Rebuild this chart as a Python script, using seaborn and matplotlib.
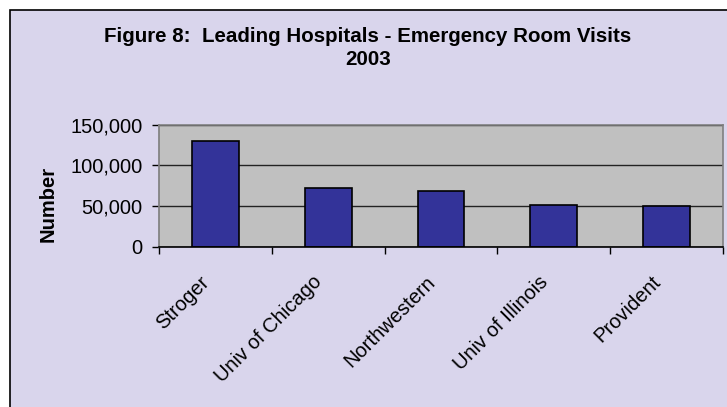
import matplotlib
matplotlib.use("Agg")
import matplotlib.pyplot as plt
import seaborn as sns
import pandas as pd
from matplotlib.patches import Rectangle
from matplotlib.ticker import FuncFormatter, FixedLocator
from matplotlib.transforms import ScaledTranslation

hospitals = ["Stroger", "Univ of Chicago", "Northwestern", "Univ of Illinois", "Provident"]
visits = [130500, 72000, 68500, 52000, 50500]
yticks = [0, 50000, 100000, 150000]

df = pd.DataFrame({"Hospital": hospitals, "Visits": visits})

sns.set_theme(style="white")
plt.rcParams['font.family'] = ['Liberation Sans', 'DejaVu Sans']

W, H = 727, 407
DPI = 100
fig = plt.figure(figsize=(W / DPI, H / DPI), dpi=DPI)
fig.patch.set_facecolor("white")
fig.patches.append(Rectangle((10 / W, -0.1), 1.2, 1.1 - 10 / H, transform=fig.transFigure,
                             facecolor="#D9D5EC", edgecolor="black", linewidth=1.2, zorder=-10))

ax = fig.add_axes([159 / W, 1 - 247 / H, (723 - 159) / W, (247 - 124.7) / H])
ax.set_facecolor("#C0C0C0")
sns.barplot(data=df, x="Hospital", y="Visits", color="#333399", saturation=1,
            width=0.414, edgecolor="black", linewidth=1.2, ax=ax, zorder=3)

ax.set_ylim(0, 150000)
ax.set_xlim(-0.5, len(hospitals) - 0.5)
ax.set_yticks(yticks)
ax.yaxis.set_major_formatter(FuncFormatter(lambda v, p: f"{int(v):,}"))
ax.grid(axis="y", color="#222222", linewidth=1.0, zorder=1)
ax.set_axisbelow(True)

for s in ["top", "right"]:
    ax.spines[s].set_color("#808080")
    ax.spines[s].set_linewidth(1.2)
ax.spines["left"].set_color("#808080")
ax.spines["bottom"].set_color("black")
ax.spines["bottom"].set_linewidth(1.2)
ax.spines["bottom"].set_zorder(5)

ax.tick_params(axis="y", left=True, length=5, width=1, color="black", labelsize=14.5, pad=7, labelcolor="black")
ax.tick_params(axis="x", which="major", bottom=False, length=0, labelsize=14.5, pad=23, labelcolor="black")
ax.xaxis.set_minor_locator(FixedLocator([i - 0.5 for i in range(len(hospitals) + 1)]))
ax.tick_params(axis="x", which="minor", bottom=True, length=5, width=1, color="black")
ax.set_xticks(range(len(hospitals)))
ax.set_xticklabels(hospitals, rotation=45, ha="right", va="center", rotation_mode="anchor")
for lab in ax.get_xticklabels():
    lab.set_transform(lab.get_transform() + ScaledTranslation(-9 / DPI, 0, fig.dpi_scale_trans))

ax.set_xlabel("")
ax.set_ylabel("Number", fontsize=14.5, fontweight="bold", color="black")
ax.yaxis.set_label_coords(48 / W, 0.5, transform=fig.transFigure)
ax.yaxis.label.set_va("center")

fig.text(368 / W, 1 - 42 / H, "Figure 8:  Leading Hospitals - Emergency Room Visits",
         ha="center", va="baseline", fontsize=14.8, fontweight="bold", color="black")
fig.text(368 / W, 1 - 65 / H, "2003", ha="center", va="baseline",
         fontsize=14.8, fontweight="bold", color="black")

fig.savefig("out.png", dpi=DPI)
